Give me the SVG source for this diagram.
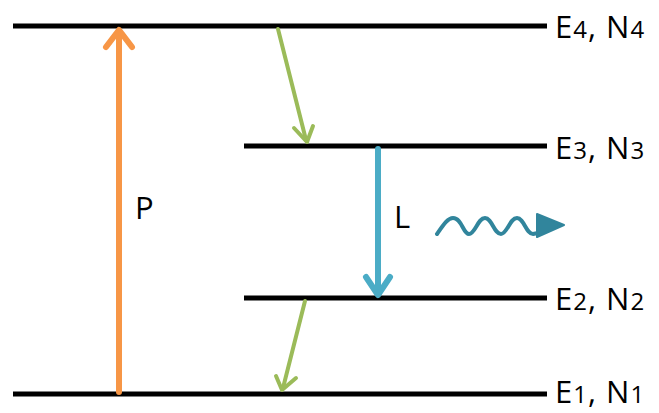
<svg xmlns="http://www.w3.org/2000/svg" width="659" height="413" viewBox="0 0 659 413">
<style>
.lvl{stroke:#000;stroke-width:5;}
.lbl{font-family:"Open Sans","Liberation Sans",sans-serif;font-size:31px;fill:#000;}
.sub{font-size:24px;}
.arr{fill:none;stroke-linecap:round;stroke-linejoin:round;}
</style>
<rect width="659" height="413" fill="#fff"/>
<g id="levels">
<g id="E4"><line class="lvl" x1="13" y1="26" x2="547" y2="26"/><text class="lbl" x="555" y="38" letter-spacing="1">E<tspan class="sub">4</tspan>, N<tspan class="sub">4</tspan></text></g>
<g id="E3"><line class="lvl" x1="244" y1="146" x2="547" y2="146"/><text class="lbl" x="555" y="159" letter-spacing="1">E<tspan class="sub">3</tspan>, N<tspan class="sub">3</tspan></text></g>
<g id="E2"><line class="lvl" x1="244" y1="298" x2="547" y2="298"/><text class="lbl" x="555" y="310" letter-spacing="1">E<tspan class="sub">2</tspan>, N<tspan class="sub">2</tspan></text></g>
<g id="E1"><line class="lvl" x1="13" y1="394" x2="547" y2="394"/><text class="lbl" x="555" y="403" letter-spacing="1">E<tspan class="sub">1</tspan>, N<tspan class="sub">1</tspan></text></g>
</g>
<g id="connectors">
<g id="pump">
<line class="arr" x1="119" y1="392" x2="119" y2="32" stroke="#F79646" stroke-width="6"/>
<polyline class="arr" points="106,47 119,30 132,47" stroke="#F79646" stroke-width="6"/>
<text class="lbl" x="135" y="219">P</text>
</g>
<g id="decay1">
<line class="arr" x1="278" y1="29" x2="306" y2="140" stroke="#9BBB59" stroke-width="4"/>
<polyline class="arr" points="294,128 307,142 313,126" stroke="#9BBB59" stroke-width="4"/>
</g>
<g id="laser">
<line class="arr" x1="378" y1="149" x2="378" y2="293" stroke="#4BACC6" stroke-width="6"/>
<polyline class="arr" points="366,277 378,295 390,277" stroke="#4BACC6" stroke-width="6"/>
<text class="lbl" x="394" y="228">L</text>
</g>
<g id="decay2">
<line class="arr" x1="305" y1="301" x2="283" y2="388" stroke="#9BBB59" stroke-width="4"/>
<polyline class="arr" points="276,376 282,390 296,378" stroke="#9BBB59" stroke-width="4"/>
</g>
<g id="photon">
<path class="arr" d="M437,234 C444,224 448,218 453,218 C462,218 463,234 469,234 C475,234 478,218 485,218 C492,218 494,234 501,234 C507,234 510,218 517,218 C524,218 526,234 533,234 L538,233" stroke="#31859C" stroke-width="4"/>
<polygon points="537,214 564,225 537,237" fill="#31859C" stroke="#31859C" stroke-width="2" stroke-linejoin="round"/>
</g>
</g>
</svg>
